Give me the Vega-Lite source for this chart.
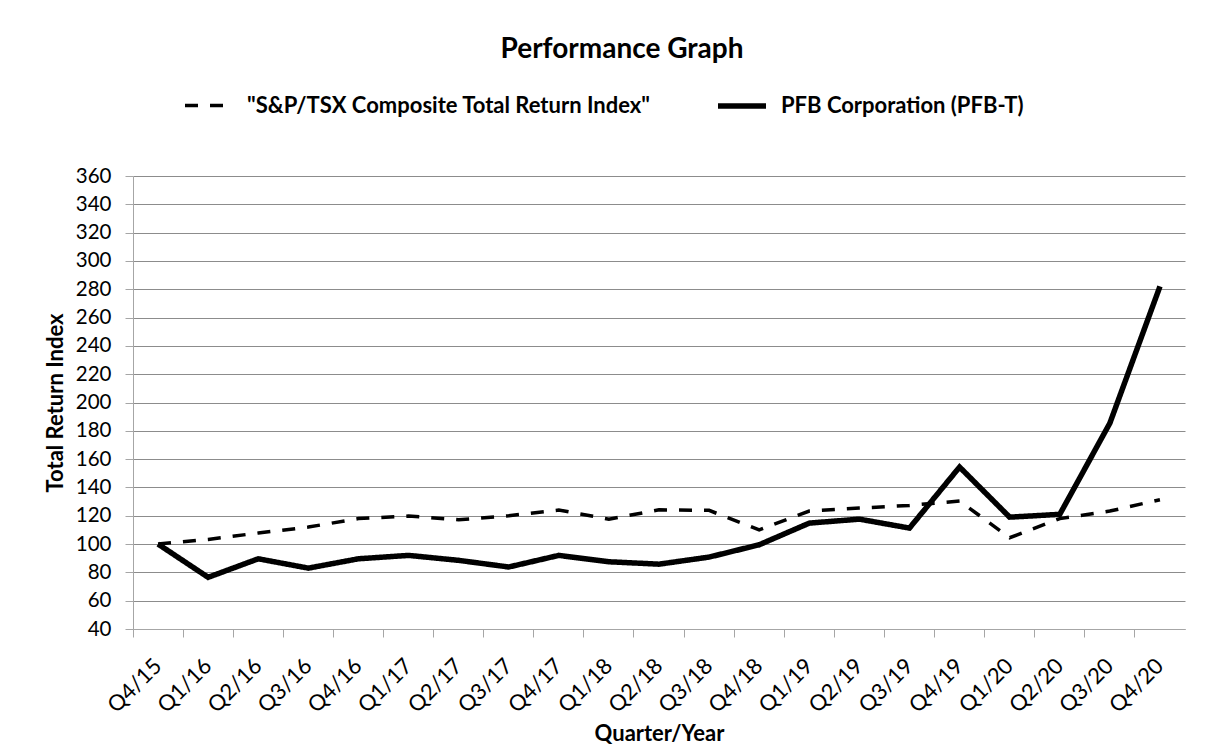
{
  "$schema": "https://vega.github.io/schema/vega-lite/v6.json",
  "width": 1052,
  "height": 453,
  "autosize": {"type": "none"},
  "padding": {"left": 133, "top": 176, "right": 32, "bottom": 124},
  "background": "white",
  "title": {
    "text": "Performance Graph",
    "font": "Lato",
    "fontSize": 28,
    "fontWeight": "bold",
    "color": "#000000",
    "anchor": "middle",
    "frame": "group",
    "baseline": "alphabetic",
    "offset": -7,
    "dx": -37
  },
  "config": {
    "view": {"stroke": null},
    "font": "Lato"
  },
  "data": {
    "values": [
      {"quarter": "Q4/15", "series": "\"S&P/TSX Composite Total Return Index\"", "value": 100},
      {"quarter": "Q1/16", "series": "\"S&P/TSX Composite Total Return Index\"", "value": 103.3},
      {"quarter": "Q2/16", "series": "\"S&P/TSX Composite Total Return Index\"", "value": 107.8},
      {"quarter": "Q3/16", "series": "\"S&P/TSX Composite Total Return Index\"", "value": 112},
      {"quarter": "Q4/16", "series": "\"S&P/TSX Composite Total Return Index\"", "value": 118},
      {"quarter": "Q1/17", "series": "\"S&P/TSX Composite Total Return Index\"", "value": 119.8},
      {"quarter": "Q2/17", "series": "\"S&P/TSX Composite Total Return Index\"", "value": 117.2},
      {"quarter": "Q3/17", "series": "\"S&P/TSX Composite Total Return Index\"", "value": 120},
      {"quarter": "Q4/17", "series": "\"S&P/TSX Composite Total Return Index\"", "value": 124},
      {"quarter": "Q1/18", "series": "\"S&P/TSX Composite Total Return Index\"", "value": 117.6},
      {"quarter": "Q2/18", "series": "\"S&P/TSX Composite Total Return Index\"", "value": 124.2},
      {"quarter": "Q3/18", "series": "\"S&P/TSX Composite Total Return Index\"", "value": 123.8},
      {"quarter": "Q4/18", "series": "\"S&P/TSX Composite Total Return Index\"", "value": 110},
      {"quarter": "Q1/19", "series": "\"S&P/TSX Composite Total Return Index\"", "value": 123.3},
      {"quarter": "Q2/19", "series": "\"S&P/TSX Composite Total Return Index\"", "value": 125.4},
      {"quarter": "Q3/19", "series": "\"S&P/TSX Composite Total Return Index\"", "value": 127.3},
      {"quarter": "Q4/19", "series": "\"S&P/TSX Composite Total Return Index\"", "value": 130.4},
      {"quarter": "Q1/20", "series": "\"S&P/TSX Composite Total Return Index\"", "value": 104.5},
      {"quarter": "Q2/20", "series": "\"S&P/TSX Composite Total Return Index\"", "value": 118},
      {"quarter": "Q3/20", "series": "\"S&P/TSX Composite Total Return Index\"", "value": 123.3},
      {"quarter": "Q4/20", "series": "\"S&P/TSX Composite Total Return Index\"", "value": 131.3},
      {"quarter": "Q4/15", "series": "PFB Corporation (PFB-T)", "value": 100},
      {"quarter": "Q1/16", "series": "PFB Corporation (PFB-T)", "value": 76.5},
      {"quarter": "Q2/16", "series": "PFB Corporation (PFB-T)", "value": 89.6},
      {"quarter": "Q3/16", "series": "PFB Corporation (PFB-T)", "value": 83},
      {"quarter": "Q4/16", "series": "PFB Corporation (PFB-T)", "value": 89.6},
      {"quarter": "Q1/17", "series": "PFB Corporation (PFB-T)", "value": 92},
      {"quarter": "Q2/17", "series": "PFB Corporation (PFB-T)", "value": 88.5},
      {"quarter": "Q3/17", "series": "PFB Corporation (PFB-T)", "value": 83.8},
      {"quarter": "Q4/17", "series": "PFB Corporation (PFB-T)", "value": 92},
      {"quarter": "Q1/18", "series": "PFB Corporation (PFB-T)", "value": 87.5},
      {"quarter": "Q2/18", "series": "PFB Corporation (PFB-T)", "value": 85.8},
      {"quarter": "Q3/18", "series": "PFB Corporation (PFB-T)", "value": 90.8},
      {"quarter": "Q4/18", "series": "PFB Corporation (PFB-T)", "value": 99.5},
      {"quarter": "Q1/19", "series": "PFB Corporation (PFB-T)", "value": 114.8},
      {"quarter": "Q2/19", "series": "PFB Corporation (PFB-T)", "value": 117.6},
      {"quarter": "Q3/19", "series": "PFB Corporation (PFB-T)", "value": 111.3},
      {"quarter": "Q4/19", "series": "PFB Corporation (PFB-T)", "value": 154.4},
      {"quarter": "Q1/20", "series": "PFB Corporation (PFB-T)", "value": 119},
      {"quarter": "Q2/20", "series": "PFB Corporation (PFB-T)", "value": 121},
      {"quarter": "Q3/20", "series": "PFB Corporation (PFB-T)", "value": 185.4},
      {"quarter": "Q4/20", "series": "PFB Corporation (PFB-T)", "value": 282}
    ]
  },
  "mark": {"type": "line", "color": "#000000", "strokeJoin": "miter"},
  "encoding": {
    "x": {
      "field": "quarter",
      "type": "ordinal",
      "sort": null,
      "scale": {"type": "band", "paddingInner": 0, "paddingOuter": 0},
      "axis": {
        "title": "Quarter/Year",
        "titleFont": "Lato",
        "titleFontSize": 22,
        "titleFontWeight": "bold",
        "titleColor": "#000000",
        "titlePadding": 7,
        "labelFont": "Lato",
        "labelFontSize": 22,
        "labelColor": "#000000",
        "labelAngle": -45,
        "labelAlign": "right",
        "labelBaseline": "middle",
        "labelOffset": 0,
        "labelPadding": 25,
        "bandPosition": 0,
        "ticks": true,
        "tickSize": 8,
        "tickColor": "#a6a6a6",
        "domainColor": "#a6a6a6",
        "grid": false
      }
    },
    "y": {
      "field": "value",
      "type": "quantitative",
      "scale": {"domain": [40, 360], "nice": false, "zero": false},
      "axis": {
        "title": "Total Return Index",
        "titleFont": "Lato",
        "titleFontSize": 22,
        "titleFontWeight": "bold",
        "titleColor": "#000000",
        "titlePadding": 8,
        "values": [40, 60, 80, 100, 120, 140, 160, 180, 200, 220, 240, 260, 280, 300, 320, 340, 360],
        "labelFont": "Lato",
        "labelFontSize": 20.5,
        "labelColor": "#000000",
        "labelPadding": 14,
        "tickSize": 8,
        "tickColor": "#a6a6a6",
        "domainColor": "#a6a6a6",
        "grid": true,
        "gridColor": "#8c8c8c",
        "gridWidth": 1
      }
    },
    "strokeDash": {
      "field": "series",
      "type": "nominal",
      "scale": {
        "domain": ["\"S&P/TSX Composite Total Return Index\"", "PFB Corporation (PFB-T)"],
        "range": [[13, 12], [1, 0]]
      },
      "legend": {
        "title": null,
        "orient": "none",
        "legendX": 50,
        "legendY": -97,
        "direction": "horizontal",
        "symbolType": "stroke",
        "symbolSize": 2304,
        "symbolStrokeColor": "#000000",
        "labelFont": "Lato",
        "labelFontSize": 22,
        "labelFontWeight": "bold",
        "labelColor": "#000000",
        "labelLimit": 700,
        "labelOffset": 12,
        "columnPadding": 56
      }
    },
    "strokeWidth": {
      "field": "series",
      "type": "nominal",
      "scale": {
        "domain": ["\"S&P/TSX Composite Total Return Index\"", "PFB Corporation (PFB-T)"],
        "range": [3.5, 5.5]
      },
      "legend": {
        "title": null,
        "orient": "none",
        "legendX": 50,
        "legendY": -97,
        "direction": "horizontal",
        "symbolType": "stroke",
        "symbolSize": 2304,
        "symbolStrokeColor": "#000000",
        "labelFont": "Lato",
        "labelFontSize": 22,
        "labelFontWeight": "bold",
        "labelColor": "#000000",
        "labelLimit": 700,
        "labelOffset": 12,
        "columnPadding": 56
      }
    }
  }
}
